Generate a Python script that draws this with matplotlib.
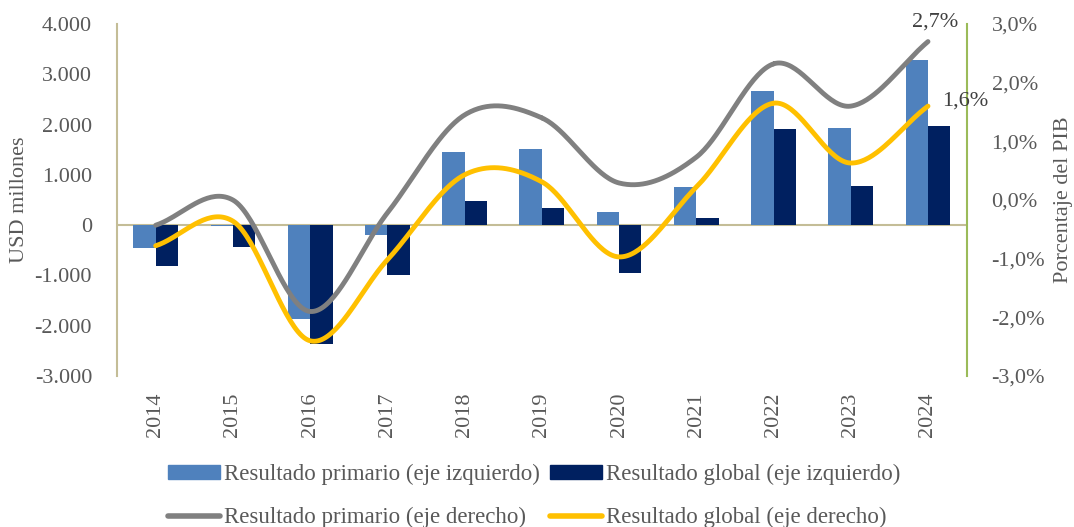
import numpy as np
import matplotlib.pyplot as plt
from matplotlib.lines import Line2D
from matplotlib.patches import Patch

plt.rcParams['font.family'] = ['Liberation Serif', 'DejaVu Serif']

years = ["2014", "2015", "2016", "2017", "2018", "2019", "2020", "2021", "2022", "2023", "2024"]
# USD millones (eje izquierdo)
primario_usd = [-450, -10, -1870, -200, 1450, 1510, 260, 750, 2670, 1930, 3280]
global_usd = [-820, -430, -2370, -1000, 480, 350, -960, 150, 1910, 780, 1970]
# % del PIB (eje derecho)
primario_pib = [-0.43, 0.0, -1.9, -0.22, 1.45, 1.4, 0.29, 0.73, 2.32, 1.6, 2.7]
global_pib = [-0.78, -0.36, -2.4, -1.02, 0.43, 0.31, -0.97, 0.22, 1.65, 0.63, 1.6]

c_prim = "#4f81bd"
c_glob = "#002060"
c_gray = "#808080"
c_yel = "#ffc000"
c_txt = "#595959"


def smooth(x, y, n=40):
    # Excel-like smoothed line (Catmull-Rom through the points)
    x = np.asarray(x, float)
    y = np.asarray(y, float)
    px = np.concatenate([[2 * x[0] - x[1]], x, [2 * x[-1] - x[-2]]])
    py = np.concatenate([[2 * y[0] - y[1]], y, [2 * y[-1] - y[-2]]])
    xs, ys = [], []
    t = np.linspace(0, 1, n)
    for i in range(1, len(px) - 2):
        for arr, out in ((px, xs), (py, ys)):
            p0, p1, p2, p3 = arr[i - 1], arr[i], arr[i + 1], arr[i + 2]
            out.extend(0.5 * (2 * p1 + (-p0 + p2) * t + (2 * p0 - 5 * p1 + 4 * p2 - p3) * t ** 2
                              + (-p0 + 3 * p1 - 3 * p2 + p3) * t ** 3))
    return np.array(xs), np.array(ys)


fig = plt.figure(figsize=(10.74, 5.27), dpi=100)
ax = fig.add_axes([0.109, 0.2865, 0.791, 0.668])
ax2 = ax.twinx()

x = np.arange(len(years))
w = 0.29
ax.bar(x - w / 2, primario_usd, w, color=c_prim, zorder=2)
ax.bar(x + w / 2, global_usd, w, color=c_glob, zorder=2)
ax.axhline(0, color="#c4bd97", lw=1.5, zorder=1)

ax.set_xlim(-0.5, len(years) - 0.5)
ax.set_ylim(-3000, 4000)
ax.set_yticks(np.arange(-3000, 4001, 1000))
ax.set_yticklabels([f"{v:,.0f}".replace(",", ".") for v in np.arange(-3000, 4001, 1000)])
ax.set_xticks(x)
ax.set_xticklabels(years, rotation=90)
ax.tick_params(axis="both", length=0, colors=c_txt, labelsize=16)
ax.tick_params(axis="x", pad=12)
ax.tick_params(axis="y", pad=18)
ax.set_ylabel("USD millones", fontsize=16, color=c_txt, labelpad=4)

for s in ["top", "right", "bottom"]:
    ax.spines[s].set_visible(False)
ax.spines["left"].set_color("#c4bd97")
ax.spines["left"].set_linewidth(1.5)

sx, sy = smooth(x, primario_pib)
ax2.plot(sx, sy, color=c_gray, lw=3.5, solid_capstyle="round")
sx, sy = smooth(x, global_pib)
ax2.plot(sx, sy, color=c_yel, lw=3.5, solid_capstyle="round")
ax2.set_ylim(-3, 3)
ax2.set_yticks(np.arange(-3, 3.01, 1))
ax2.set_yticklabels([f"{v:.1f}%".replace(".", ",") for v in np.arange(-3, 3.01, 1)])
ax2.tick_params(axis="y", length=0, colors=c_txt, labelsize=16, pad=18)
ax2.set_ylabel("Porcentaje del PIB", fontsize=16, color=c_txt, labelpad=6)
for s in ["top", "left", "bottom"]:
    ax2.spines[s].set_visible(False)
ax2.spines["right"].set_color("#9bbb59")
ax2.spines["right"].set_linewidth(1.5)

ax2.annotate("2,7%", (x[-1], primario_pib[-1]), xytext=(5, 7), textcoords="offset points",
             ha="center", va="bottom", fontsize=16, color="#404040")
ax2.annotate("1,6%", (x[-1], global_pib[-1]), xytext=(10, 4), textcoords="offset points",
             ha="left", va="center", fontsize=16, color="#404040")

# legend filled column-wise, so order gives rows: bars first, lines second
handles = [Patch(color=c_prim), Line2D([], [], color=c_gray, lw=4, solid_capstyle="round"),
           Patch(color=c_glob), Line2D([], [], color=c_yel, lw=4, solid_capstyle="round")]
labels = ["Resultado primario (eje izquierdo)", "Resultado primario (eje derecho)",
          "Resultado global (eje izquierdo)", "Resultado global (eje derecho)"]
leg = fig.legend(handles, labels, ncol=2, loc="center left", bbox_to_anchor=(168 / 1074, 0.0588),
                 frameon=False, fontsize=16.5, handlelength=2.27, handleheight=0.5,
                 handletextpad=0.18, columnspacing=0.44, labelspacing=0.95, labelcolor=c_txt,
                 borderpad=0, borderaxespad=0)

fig.savefig("out.png", dpi=100)
